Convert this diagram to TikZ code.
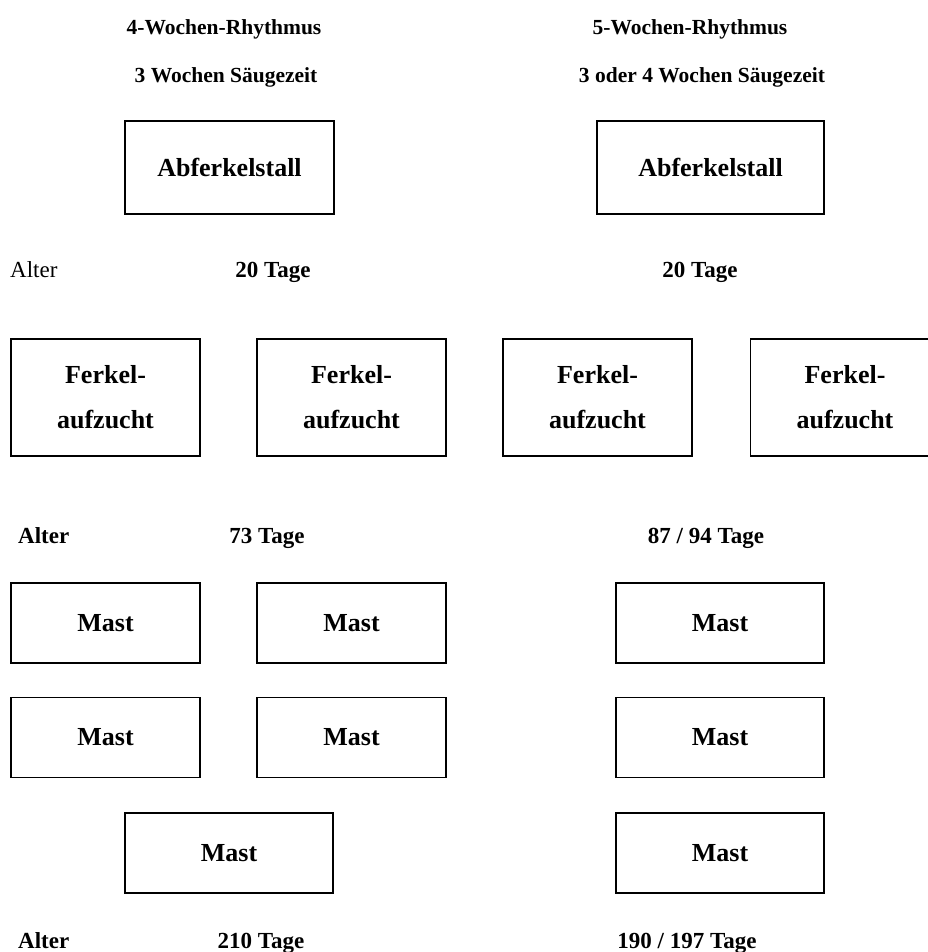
\documentclass[tikz,border=0pt]{standalone}
\usepackage{fontspec}
\setmainfont{Liberation Serif}
\usepackage{tikz}
\usetikzlibrary{positioning}

\begin{document}
\begin{tikzpicture}[x=1pt, y=-1pt,
stall/.style={rectangle, draw=black, line width=1.6pt, align=center,
  font=\fontsize{26}{45}\selectfont\bfseries, inner sep=0pt},
lbl/.style={anchor=base, inner sep=0pt, font=\fontsize{23}{28}\selectfont\bfseries},
lblw/.style={lbl, anchor=base west},
titel/.style={lbl, font=\fontsize{21.5}{26}\selectfont\bfseries},
]

\useasboundingbox (0,0) rectangle (927,952);

% Ueberschriften
\node[titel]            (rhy4)      at (224,35)      {4-Wochen-Rhythmus};
\node[titel]            (saeug4)    at (226,83)      {3 Wochen Säugezeit};
\node[titel]            (rhy5)      at (690,35)      {5-Wochen-Rhythmus};
\node[titel]            (saeug5)    at (702,83)      {3 oder 4 Wochen Säugezeit};

% Abferkelstall
\node[stall, minimum width=209, minimum height=93]  (abf4) at (229.5,167.5) {Abferkelstall};
\node[stall, minimum width=227, minimum height=93]  (abf5) at (710.5,167.5) {Abferkelstall};

\node[lblw, font=\fontsize{23}{28}\selectfont]  (alter1)  at (10,277)   {Alter};
\node[lbl]              (tage20a)   at (273,277)     {20 Tage};
\node[lbl]              (tage20b)   at (700,277)     {20 Tage};

% Ferkelaufzucht
\node[stall, minimum width=189, minimum height=117] (fa1) at (105.5,397.5) {Ferkel-\\aufzucht};
\node[stall, minimum width=189, minimum height=117] (fa2) at (351.5,397.5) {Ferkel-\\aufzucht};
\node[stall, minimum width=189, minimum height=117] (fa3) at (597.5,397.5) {Ferkel-\\aufzucht};
\node[stall, minimum width=189, minimum height=117] (fa4) at (845,397.5)   {Ferkel-\\aufzucht};

\node[lblw]             (alter2)    at (18,543)      {Alter};
\node[lbl]              (tage73)    at (267,543)     {73 Tage};
\node[lbl]              (tage87)    at (706,543)     {87 / 94 Tage};

% Mast
\node[stall, minimum width=189, minimum height=80]  (mast1) at (105.5,623)  {Mast};
\node[stall, minimum width=189, minimum height=80]  (mast2) at (351.5,623)  {Mast};
\node[stall, minimum width=189, minimum height=80]  (mast3) at (105.5,737.5) {Mast};
\node[stall, minimum width=189, minimum height=80]  (mast4) at (351.5,737.5) {Mast};
\node[stall, minimum width=208, minimum height=80]  (mast5) at (229,853)    {Mast};

\node[stall, minimum width=208, minimum height=80]  (mast6) at (720,623)    {Mast};
\node[stall, minimum width=208, minimum height=80]  (mast7) at (720,737.5)  {Mast};
\node[stall, minimum width=208, minimum height=80]  (mast8) at (720,853)    {Mast};

\node[lblw]             (alter3)    at (18,948)      {Alter};
\node[lbl]              (tage210)   at (261,948)     {210 Tage};
\node[lbl]              (tage190)   at (687,948)     {190 / 197 Tage};

\end{tikzpicture}
\end{document}
